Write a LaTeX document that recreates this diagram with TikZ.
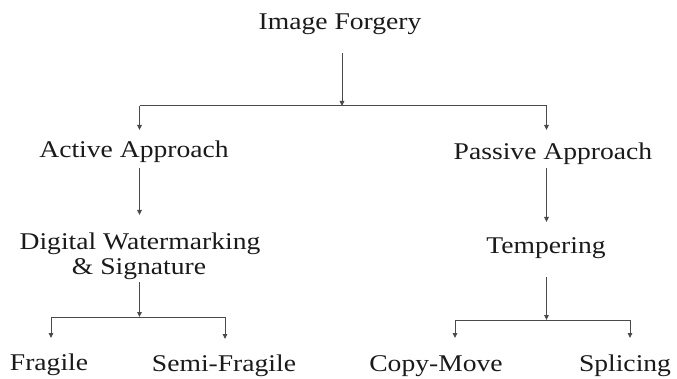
\documentclass[tikz,border=0pt]{standalone}
\usepackage{fontspec}
\setmainfont{Liberation Serif}
\usetikzlibrary{arrows.meta}
\definecolor{inkline}{HTML}{4A4A4A}
\definecolor{inktext}{HTML}{1A1A1A}
% horizontally widened label text
\newcommand\widelabel[1]{\scalebox{1.15}[1]{#1}}
\begin{document}
\begin{tikzpicture}[x=1pt,y=-1pt,
  lbl/.style={anchor=base, inner sep=0pt, text=inktext,
    font=\fontsize{24}{28}\selectfont},
  link/.style={draw=inkline, line width=1pt,
    -{Triangle[length=5pt,width=4.5pt]}},
  bar/.style={draw=inkline, line width=1pt}]
\useasboundingbox (0,0) rectangle (677,379);

% labels
\node[lbl] (root)    at (340,30)  {\widelabel{Image Forgery}};
\node[lbl] (active)  at (134,158) {\widelabel{Active Approach}};
\node[lbl] (passive) at (553,160) {\widelabel{Passive Approach}};
\node[lbl] (dw)      at (140,250) {\widelabel{Digital Watermarking}};
\node[lbl] (sig)     at (139,275) {\widelabel{\& Signature}};
\node[lbl] (temp)    at (546,254) {\widelabel{Tempering}};
\node[lbl] (frag)    at (49,370)  {\widelabel{Fragile}};
\node[lbl] (semi)    at (224,371) {\widelabel{Semi-Fragile}};
\node[lbl] (copy)    at (436,371) {\widelabel{Copy-Move}};
\node[lbl] (splice)  at (625,371) {\widelabel{Splicing}};

% branch points
\coordinate (j0) at (342,106);
\coordinate (j0l) at (139.5,106);
\coordinate (j0r) at (546.5,106);
\coordinate (j1) at (139.5,317);
\coordinate (j1l) at (51,317);
\coordinate (j1r) at (225,317);
\coordinate (j2) at (546.5,320);
\coordinate (j2l) at (455,320);
\coordinate (j2r) at (630,320);

% top level
\draw[link] (root.base -| j0) ++(0,23) -- (j0);
\draw[bar] (j0l) -- (j0r);
\draw[link] (j0l) -- (j0l |- 0,130);
\draw[link] (j0r) -- (j0r |- 0,130);

% active branch
\draw[link] (active.base -| j0l) ++(0,10) -- ++(0,47);
\draw[link] (sig.base -| j1) ++(0,7) -- (j1);
\draw[bar] (j1l) -- (j1r);
\draw[link] (j1l) -- (j1l |- 0,338);
\draw[link] (j1r) -- (j1r |- 0,339);

% passive branch
\draw[link] (passive.base -| j0r) ++(0,8) -- ++(0,54);
\draw[link] (temp.base -| j2) ++(0,23) -- (j2);
\draw[bar] (j2l) -- (j2r);
\draw[link] (j2l) -- (j2l |- 0,338);
\draw[link] (j2r) -- (j2r |- 0,338);
\end{tikzpicture}
\end{document}
